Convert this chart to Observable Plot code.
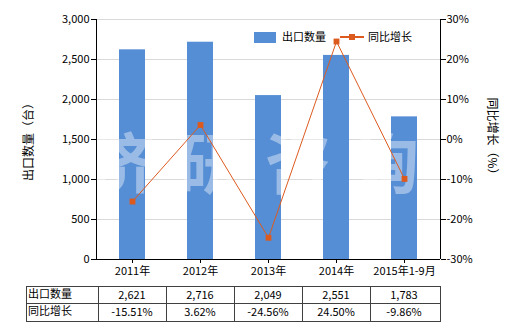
<!DOCTYPE html>
<html><head><meta charset="utf-8">
<script src="https://cdn.jsdelivr.net/npm/d3@7"></script>
<script src="https://cdn.jsdelivr.net/npm/@observablehq/plot@0.6"></script>
<style>
body{margin:0;background:#fff;}
#chart svg{font-family:"Noto Sans CJK SC","Liberation Sans",sans-serif;}
</style>
</head><body><div id="chart"></div>
<script>
const categories = ["2011年","2012年","2013年","2014年","2015年1-9月"];
const exportQty = [2621, 2716, 2049, 2551, 1783];
const yoyGrowth = [-15.51, 3.62, -24.56, 24.50, -9.86];
const qtyLabels = ["2,621","2,716","2,049","2,551","1,783"];
const growthLabels = ["-15.51%","3.62%","-24.56%","24.50%","-9.86%"];
const leftTicks = [0, 500, 1000, 1500, 2000, 2500, 3000];
const rightTicks = [-30, -20, -10, 0, 10, 20, 30];
const seriesNames = ["出口数量", "同比增长"];
const leftTitle = "出口数量（台）";
const rightTitle = "同比增长（%）";
const watermark = ["济", "研", "咨", "询"];

const toLeft = p => (p + 30) / 60 * 3000;
const fromLeft = v => Math.round(v / 3000 * 60 - 30);
const data = categories.map((c, i) => ({c, q: exportQty[i], g: yoyGrowth[i]}));

const barColor = "#558ed5";
const lineColor = "#dd5a1e";

const plot = Plot.plot({
  width: 520, height: 330,
  marginLeft: 96, marginRight: 80, marginTop: 19, marginBottom: 71,
  style: {fontSize: "11px", color: "#000", background: "#fff", overflow: "visible"},
  x: {domain: categories, padding: 0, axis: null},
  y: {domain: [0, 3000], axis: null},
  marks: [
    Plot.gridY(leftTicks.filter(d => d > 0), {stroke: "#d9d9d9", strokeOpacity: 1}),
    Plot.barY(data, {x: "c", y: "q", fill: barColor, insetLeft: 21, insetRight: 21}),
    Plot.lineY(data, {x: "c", y: d => toLeft(d.g), stroke: lineColor, strokeWidth: 1}),
    Plot.dot(data, {x: "c", y: d => toLeft(d.g), symbol: "square", r: 3.3, fill: lineColor, stroke: null}),
    Plot.ruleY([0], {stroke: "#000"}),
    Plot.axisY({ticks: leftTicks, tickFormat: d3.format(","), tickSize: 5, tickPadding: 2, label: null, fontSize: 11}),
    Plot.axisY({anchor: "right", ticks: rightTicks.map(toLeft), tickFormat: v => fromLeft(v) + "%", tickSize: 5, tickPadding: 1, label: null, fontSize: 11}),
    Plot.axisX({tickSize: 4, tickPadding: 4, label: null, fontSize: 11})
  ]
});

document.getElementById("chart").appendChild(plot);
const svg = d3.select(plot);
const xs = plot.scale("x");
const ys = plot.scale("y");
const x0 = xs.range[0], x1 = xs.range[1];
const yTop = ys.range[1], yBot = ys.range[0];

// watermark (drawn below the line layer)
const lineLayer = svg.selectAll("g[aria-label='line']").node();
const wm = svg.insert("g", () => lineLayer).attr("fill", "#ffffff").attr("fill-opacity", 0.4)
  .attr("font-size", 66).attr("font-weight", "bold").attr("text-anchor", "middle");
const wmX = [122, 210, 298, 386];
watermark.forEach((ch, i) => {
  wm.append("text").attr("x", wmX[i]).attr("y", 188).text(ch);
});

// axis lines
const g = svg.append("g").attr("stroke", "#000").attr("shape-rendering", "crispEdges");
g.append("line").attr("x1", x0).attr("x2", x0).attr("y1", yTop).attr("y2", yBot);
g.append("line").attr("x1", x1).attr("x2", x1).attr("y1", yTop).attr("y2", yBot);

// axis titles
svg.append("text").attr("transform", `translate(30,${(yTop + yBot) / 2}) rotate(-90)`)
  .attr("text-anchor", "middle").attr("dominant-baseline", "middle").attr("font-size", 12).text(leftTitle);
svg.append("text").attr("transform", `translate(491,${(yTop + yBot) / 2}) rotate(90)`)
  .attr("text-anchor", "middle").attr("dominant-baseline", "middle").attr("font-size", 12).text(rightTitle);

// legend
const lg = svg.append("g").attr("font-size", 11).attr("text-anchor", "start");
lg.append("rect").attr("x", 254).attr("y", 32).attr("width", 22).attr("height", 11).attr("fill", barColor);
lg.append("text").attr("x", 282).attr("y", 38).attr("dominant-baseline", "middle").text(seriesNames[0]);
lg.append("line").attr("x1", 340).attr("x2", 364).attr("y1", 37).attr("y2", 37).attr("stroke", lineColor).attr("stroke-width", 2);
lg.append("rect").attr("x", 349).attr("y", 34).attr("width", 6).attr("height", 6).attr("fill", lineColor);
lg.append("text").attr("x", 368).attr("y", 38).attr("dominant-baseline", "middle").text(seriesNames[1]);

// data table
const tTop = 286, tMid = 303.5, tBot = 321, tLeft = 26;
const tg = svg.append("g").attr("font-size", 11);
const tl = tg.append("g").attr("stroke", "#404040").attr("fill", "none").attr("shape-rendering", "crispEdges");
tl.append("rect").attr("x", tLeft).attr("y", tTop).attr("width", x1 - tLeft).attr("height", tBot - tTop);
tl.append("line").attr("x1", tLeft).attr("x2", x1).attr("y1", tMid).attr("y2", tMid);
const bw = xs.bandwidth;
categories.forEach(c => {
  const xb = xs.apply(c);
  tl.append("line").attr("x1", xb).attr("x2", xb).attr("y1", tTop).attr("y2", tBot);
});
tg.append("text").attr("x", 28).attr("y", (tTop + tMid) / 2).attr("text-anchor", "start").attr("dominant-baseline", "middle").text(seriesNames[0]);
tg.append("text").attr("x", 28).attr("y", (tMid + tBot) / 2).attr("text-anchor", "start").attr("dominant-baseline", "middle").text(seriesNames[1]);
categories.forEach((c, i) => {
  const xc = xs.apply(c) + bw / 2;
  tg.append("text").attr("x", xc).attr("y", (tTop + tMid) / 2 + 1).attr("text-anchor", "middle").attr("dominant-baseline", "middle").text(qtyLabels[i]);
  tg.append("text").attr("x", xc).attr("y", (tMid + tBot) / 2 + 1).attr("text-anchor", "middle").attr("dominant-baseline", "middle").text(growthLabels[i]);
});
</script>
</body></html>
